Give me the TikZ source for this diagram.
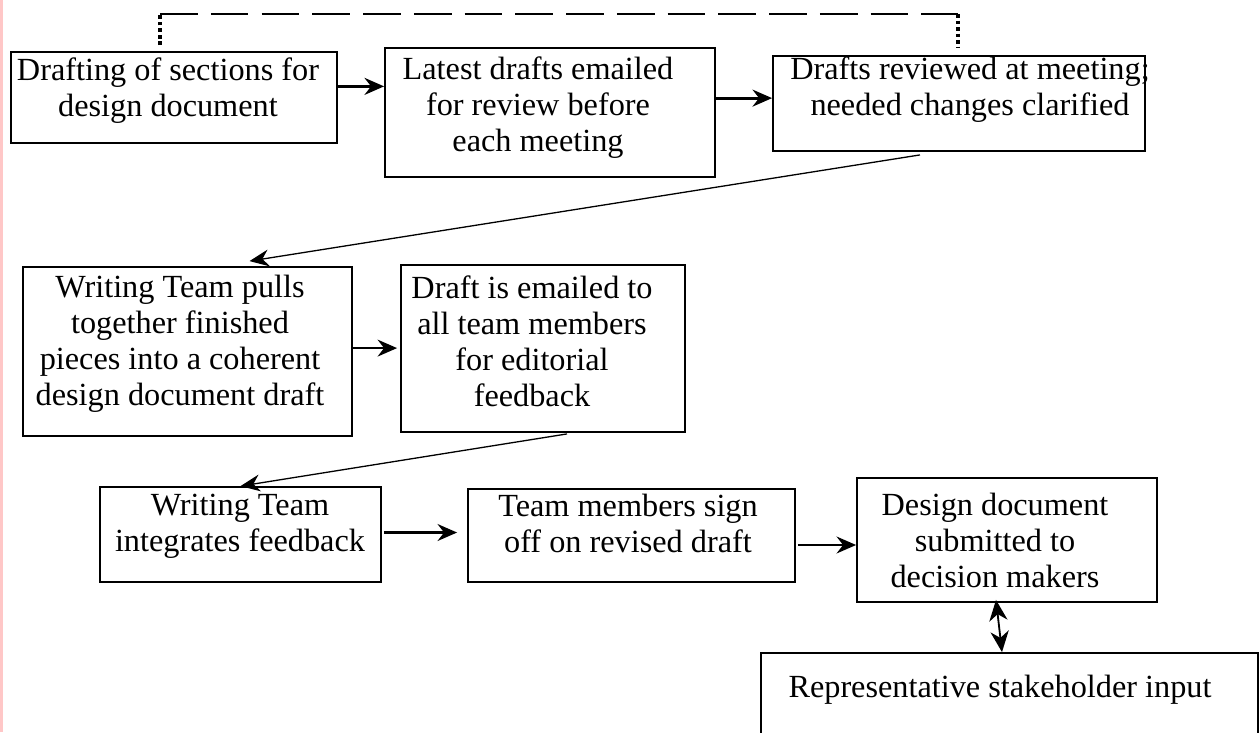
\documentclass[tikz,border=0pt]{standalone}
\usepackage{fontspec}
\setmainfont{Liberation Serif}
\usepackage{tikz}
\usetikzlibrary{calc, positioning, fit, arrows.meta}

\begin{document}
\begin{tikzpicture}[x=0.0135cm, y=-0.0135cm,
    stepbox/.style={draw, line width=0.7pt, inner sep=0pt},
    steptext/.style={anchor=north, inner sep=0pt, align=center, font=\fontsize{12.4}{13.8}\selectfont},
    flow/.style={-{Stealth[length=7.5pt, width=6.5pt, inset=2.5pt]}, line width=0.8pt},
    boldflow/.style={flow, line width=1.2pt},
    thinflow/.style={flow, line width=0.5pt},
    loopdash/.style={line width=0.8pt, dash pattern=on 14.5pt off 5pt},
    loopdot/.style={line width=1.2pt, dash pattern=on 1.4pt off 1.1pt}]
    \useasboundingbox (0,0) rectangle (1259,732);
    \fill[white] (0,0) rectangle (1259,732);
    \draw[line width=1.1pt, red!22] (1.5,0) -- (1.5,732);

    \node[stepbox, fit={(11,52) (337,143)}] (dft) {};
    \node[stepbox, fit={(385,48) (715,177)}] (mail) {};
    \node[stepbox, fit={(773,56) (1145,151)}] (rev) {};
    \node[stepbox, fit={(23,267) (352,436)}] (pull) {};
    \node[stepbox, fit={(401,265) (685,432)}] (edit) {};
    \node[stepbox, fit={(100,487) (381,582)}] (integ) {};
    \node[stepbox, fit={(468,489) (795,582)}] (sign) {};
    \node[stepbox, fit={(857,478) (1157,602)}] (subm) {};
    \node[stepbox, fit={(761,653) (1258,780)}] (stake) {};

    \node[steptext] (dfttxt) at (168,57) {Drafting of sections for\\design document};
    \node[steptext] (mailtxt) at (538,56) {Latest drafts emailed\\for review before\\each meeting};
    \node[steptext] (revtxt) at (970,56) {Drafts reviewed at meeting;\\needed changes clarified};
    \node[steptext] (pulltxt) at (180,275) {Writing Team pulls\\together finished\\pieces into a coherent\\design document draft};
    \node[steptext] (edittxt) at (532,275) {Draft is emailed to\\all team members\\for editorial\\feedback};
    \node[steptext] (integtxt) at (240,494) {Writing Team\\integrates feedback};
    \node[steptext] (signtxt) at (628,494) {Team members sign\\off on revised draft};
    \node[steptext] (submtxt) at (995,493) {Design document\\submitted to\\decision makers};
    \node[steptext] (staketxt) at (1000,675) {Representative stakeholder input};

    \coordinate (loopa) at (160,45);
    \coordinate (loopb) at (958,48);
    \draw[loopdot] (loopa) -- (loopa |- 0,14);
    \draw[loopdash] (loopa |- 0,14) -- (loopb |- 0,14);
    \draw[loopdot] (loopb |- 0,14) -- (loopb);

    \draw[boldflow] ($(dft.north east)!.38!(dft.south east)$) coordinate (ab) -- (ab -| mail.west);
    \draw[boldflow] ($(mail.north east)!.39!(mail.south east)$) coordinate (bc) -- (bc -| rev.west);
    \draw[thinflow] ($(rev.south)+(-39,3)$) -- ($(pull.north)+(62,-5)$);
    \draw[flow] ($(pull.north east)!.48!(pull.south east)$) coordinate (de) -- ($(de -| edit.west)+(-3,0)$);
    \draw[thinflow] ($(edit.south)+(24,1)$) -- (integ.north);
    \draw[flow] ($(integ.east)+(2,-2)$) coordinate (fg) -- ($(fg -| sign.west)+(-10,0)$);
    \draw[flow] ($(sign.north east)!.6!(sign.south east)+(2,0)$) coordinate (gh) -- (gh -| subm.west);
    \draw[{Stealth[length=8pt, width=7pt, inset=2.5pt]}-{Stealth[length=8pt, width=7pt, inset=2.5pt]}, line width=0.7pt]
        ($(subm.south)+(-11,-3)$) -- ($(stake.north)+(-7.5,0)$);
\end{tikzpicture}
\end{document}
